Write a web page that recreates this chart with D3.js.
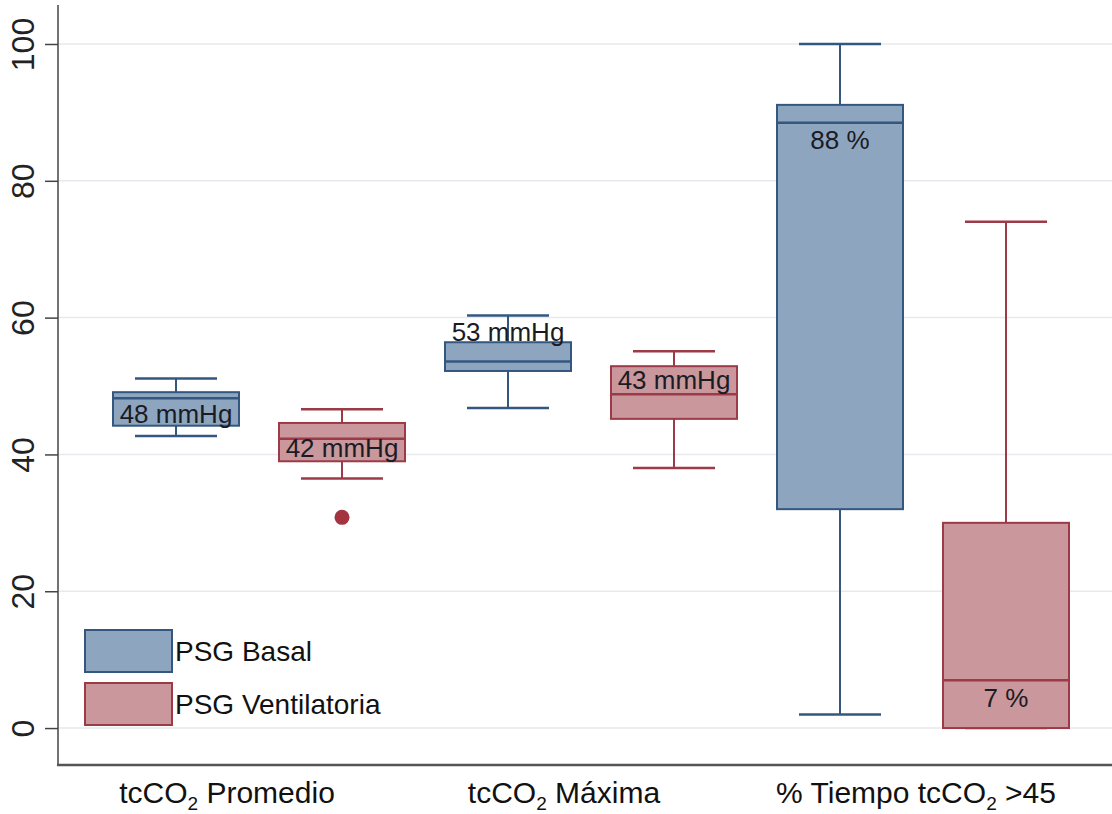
<!DOCTYPE html>
<html>
<head>
<meta charset="utf-8">
<script src="https://cdn.jsdelivr.net/npm/d3@7"></script>
<style>
  html, body { margin: 0; padding: 0; background: #fff; }
  svg { display: block; font-family: "Liberation Sans", Arial, Helvetica, sans-serif; }
</style>
</head>
<body>
<svg id="chart" width="1112" height="814"></svg>
<script>
// Groups (label split so the "2" can be drawn as a subscript)
const categories = ["Promedio", "Maxima", "Tiempo"];
const categoryLabels = [
  ["tcCO", "2", " Promedio"],
  ["tcCO", "2", " Máxima"],
  ["% Tiempo tcCO", "2", " >45"]
];
const series = ["PSG Basal", "PSG Ventilatoria"];

// Box statistics per group: [lower whisker, q1, median, q3, upper whisker]
const basalStats = [
  [42.7, 44.2, 48.2, 49.1, 51.1],
  [46.8, 52.2, 53.6, 56.4, 60.3],
  [2.0, 32.0, 88.5, 91.1, 100.0]
];
const ventStats = [
  [36.5, 39.0, 42.3, 44.6, 46.6],
  [38.0, 45.2, 48.8, 52.9, 55.1],
  [0.0, 0.0, 7.0, 30.0, 74.0]
];
// Outside values
const basalOutliers = [[], [], []];
const ventOutliers = [[30.8], [], []];

// Annotations written on the boxes and the value they sit at
const basalLabels = ["48 mmHg", "53 mmHg", "88 %"];
const basalLabelAt = [45.9, 57.9, 86.0];
const ventLabels = ["42 mmHg", "43 mmHg", "7 %"];
const ventLabelAt = [40.9, 50.9, 4.4];

const yTicks = [0, 20, 40, 60, 80, 100];

const colors = {
  "PSG Basal": { fill: "#8ea5c0", stroke: "#33577f" },
  "PSG Ventilatoria": { fill: "#c9979c", stroke: "#9c3b47" }
};

const svg = d3.select("#chart");

const y = d3.scaleLinear().domain([-5.4, 105.7]).range([765, 5]);
const x = d3.scaleBand().domain(categories).range([93, 1089]);
const xs = d3.scaleBand().domain(series).range([0, x.bandwidth()]);
const boxW = 126, capW = 82;

// grid
svg.append("g")
  .selectAll("line").data(yTicks).join("line")
  .attr("x1", 58).attr("x2", 1112)
  .attr("y1", d => y(d)).attr("y2", d => y(d))
  .attr("stroke", "#e6eaee").attr("stroke-width", 1.5);

// y axis
const yAxis = svg.append("g").attr("transform", "translate(58,0)")
  .call(d3.axisLeft(y).tickValues(yTicks).tickSize(13).tickPadding(8));
yAxis.select(".domain").attr("stroke", "#444").attr("stroke-width", 1.5)
  .attr("d", `M0,${y.range()[1]}V${y.range()[0]}`);
yAxis.selectAll(".tick line").attr("stroke", "#444").attr("stroke-width", 1.5);
yAxis.selectAll(".tick text")
  .attr("font-size", 32).attr("fill", "#222")
  .attr("transform", "rotate(-90)")
  .attr("x", 0).attr("y", -35)
  .attr("dy", "0.35em")
  .attr("text-anchor", "middle");

// x axis line
svg.append("line")
  .attr("x1", 57).attr("x2", 1112).attr("y1", 765).attr("y2", 765)
  .attr("stroke", "#555").attr("stroke-width", 2.5);

// x labels
const labelShift = [-32, -27, -7];
const xl = svg.append("g").selectAll("text").data(categories).join("text")
  .attr("x", (d, i) => x(d) + x.bandwidth() / 2 + labelShift[i])
  .attr("y", 803)
  .attr("text-anchor", "middle")
  .attr("font-size", 30).attr("fill", "#111");
xl.each(function(d, i) {
  const t = d3.select(this);
  const parts = categoryLabels[i];
  t.append("tspan").text(parts[0]);
  t.append("tspan").text(parts[1]).attr("font-size", 19).attr("dy", 7);
  t.append("tspan").text(parts[2]).attr("dy", -7);
});

function drawSeries(name, stats, outliers, labels, labelAt) {
  const c = colors[name];
  const g = svg.append("g");
  stats.forEach((s, i) => {
    const cx = x(categories[i]) + xs(name) + xs.bandwidth() / 2;
    const [lo, q1, med, q3, hi] = s;
    // whiskers
    g.append("line").attr("x1", cx).attr("x2", cx).attr("y1", y(hi)).attr("y2", y(q3))
      .attr("stroke", c.stroke).attr("stroke-width", 2);
    g.append("line").attr("x1", cx).attr("x2", cx).attr("y1", y(q1)).attr("y2", y(lo))
      .attr("stroke", c.stroke).attr("stroke-width", 2);
    [lo, hi].forEach(v => g.append("line")
      .attr("x1", cx - capW / 2).attr("x2", cx + capW / 2)
      .attr("y1", y(v)).attr("y2", y(v))
      .attr("stroke", c.stroke).attr("stroke-width", 2.5));
    // box
    g.append("rect")
      .attr("x", cx - boxW / 2).attr("width", boxW)
      .attr("y", y(q3)).attr("height", y(q1) - y(q3))
      .attr("fill", c.fill).attr("stroke", c.stroke).attr("stroke-width", 2);
    g.append("line")
      .attr("x1", cx - boxW / 2).attr("x2", cx + boxW / 2)
      .attr("y1", y(med)).attr("y2", y(med))
      .attr("stroke", c.stroke).attr("stroke-width", 2.5);
    // outside values
    outliers[i].forEach(v => g.append("circle")
      .attr("cx", cx).attr("cy", y(v)).attr("r", 7.5).attr("fill", "#a3333f"));
    // annotation
    g.append("text")
      .attr("x", cx).attr("y", y(labelAt[i]))
      .attr("dy", "0.35em").attr("text-anchor", "middle")
      .attr("font-size", 26).attr("fill", "#1b1b24")
      .text(labels[i]);
  });
}

drawSeries("PSG Basal", basalStats, basalOutliers, basalLabels, basalLabelAt);
drawSeries("PSG Ventilatoria", ventStats, ventOutliers, ventLabels, ventLabelAt);

// legend
const lg = svg.append("g").selectAll("g").data(series).join("g")
  .attr("transform", (d, i) => `translate(85,${630 + i * 53})`);
lg.append("rect").attr("width", 87).attr("height", 42)
  .attr("fill", d => colors[d].fill).attr("stroke", d => colors[d].stroke).attr("stroke-width", 2);
lg.append("text").attr("x", 90).attr("y", 21).attr("dy", "0.35em")
  .attr("font-size", 28).attr("fill", "#111").text(d => d);
</script>
</body>
</html>
